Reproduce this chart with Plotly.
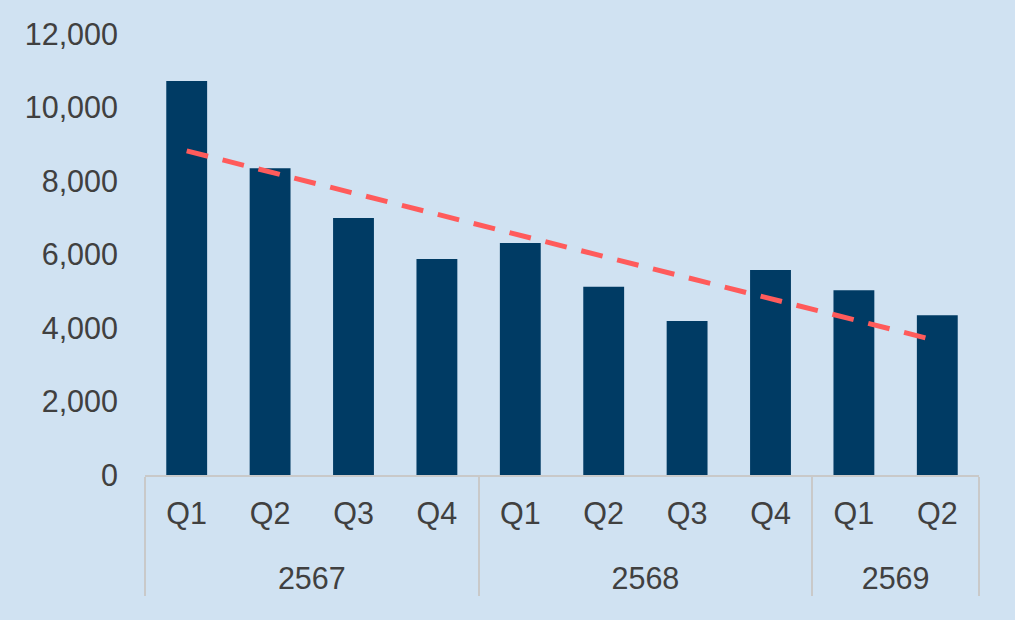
import plotly.graph_objects as go

# the leading <br> pushes the year row further below the quarter row
years = ["<br>2567"] * 4 + ["<br>2568"] * 4 + ["<br>2569"] * 2
quarters = ["Q1", "Q2", "Q3", "Q4", "Q1", "Q2", "Q3", "Q4", "Q1", "Q2"]
values = [10720, 8350, 6990, 5880, 6310, 5120, 4190, 5580, 5030, 4350]

# trend line ends (first and last quarter)
trend_x_years = ["<br>2567", "<br>2569"]
trend_x_quarters = ["Q1", "Q2"]
trend_values = [8820, 3650]

bg = "#D0E2F2"
text_color = "#404040"
font_family = "Liberation Sans, Arial, sans-serif"

fig = go.Figure()
fig.add_trace(go.Bar(
    x=[years, quarters],
    y=values,
    marker=dict(color="#003B64", line=dict(width=0)),
    showlegend=False,
))
fig.add_trace(go.Scatter(
    x=[trend_x_years, trend_x_quarters],
    y=trend_values,
    mode="lines",
    line=dict(color="#FF5B5B", width=5, dash="22px,15px"),
    showlegend=False,
))

fig.update_layout(
    width=1015,
    height=620,
    paper_bgcolor=bg,
    plot_bgcolor=bg,
    margin=dict(l=145, r=36, t=34, b=145),
    bargap=0.51,
    font=dict(family=font_family, size=30.5, color=text_color),
)
fig.update_xaxes(
    type="multicategory",
    showline=True,
    linecolor="#C9C9C9",
    linewidth=2,
    showgrid=False,
    showdividers=True,
    dividercolor="#C9C9C9",
    dividerwidth=2,
    ticks="",
    ticklabelstandoff=10,
    tickfont=dict(size=30.5, color=text_color),
)
fig.update_yaxes(
    range=[0, 12000],
    tickvals=[0, 2000, 4000, 6000, 8000, 10000, 12000],
    tickformat=",",
    showgrid=False,
    zeroline=False,
    showline=False,
    ticklabelstandoff=26,
    tickfont=dict(size=30.5, color=text_color),
)

# drop the page margin so the chart sits flush in the window
fig.write_html(
    "out.html",
    config={"displayModeBar": False},
    post_script="document.body.style.margin='0';",
)
